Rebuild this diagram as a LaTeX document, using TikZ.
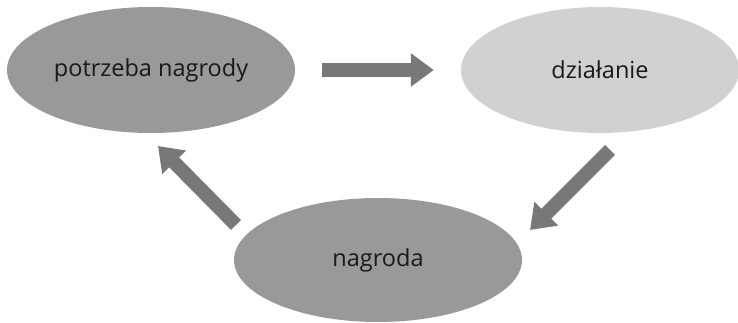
\documentclass[tikz,border=0pt]{standalone}
\usepackage{fontspec}
\setmainfont{Open Sans}
\usetikzlibrary{arrows.meta, shapes.geometric}
\definecolor{ciemny}{gray}{0.60}
\definecolor{jasny}{gray}{0.82}
\definecolor{strzalka}{gray}{0.47}

\begin{document}
\begin{tikzpicture}[x=1pt, y=-1pt]
\tikzset{owal/.style={ellipse, minimum width=288pt, minimum height=126pt, inner sep=0pt, text=black!90, font=\fontsize{23.5}{28}\selectfont},
  strz/.style={draw=strzalka, line width=14pt, -{Triangle[length=23pt, width=32pt]}}}
\useasboundingbox (0,0) rectangle (738,323);
\node[owal, fill=ciemny] (P) at (151,70) {potrzeba nagrody};
\node[owal, fill=jasny, minimum width=278pt] (D) at (600,70) {działanie};
\node[owal, fill=ciemny, minimum height=124pt] (N) at (378,260) {nagroda};
\coordinate (D1) at (610,150);
\coordinate (N1) at (530,230);
\coordinate (N2) at (236,225);
\coordinate (P1) at (158,146);
\draw[strz, shorten <=27pt, shorten >=27pt] (P) -- (D);
\draw[strz] (D1) -- (N1);
\draw[strz] (N2) -- (P1);
\end{tikzpicture}
\end{document}
